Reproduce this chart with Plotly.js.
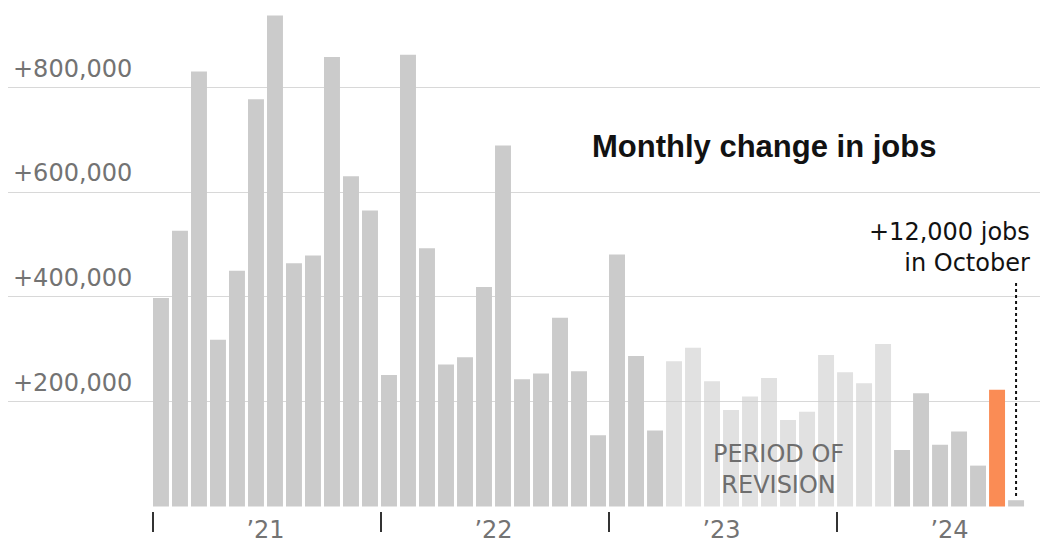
<!DOCTYPE html>
<html>
<head>
<meta charset="utf-8">
<script src="https://cdn.plot.ly/plotly-3.0.1.min.js"></script>
<style>
  html, body { margin: 0; padding: 0; background: #ffffff; }
  #chart { width: 1050px; height: 549px; }
</style>
</head>
<body>
<div id="chart"></div>
<script>
// ---- Data ----
const months = [
  '2021-01','2021-02','2021-03','2021-04','2021-05','2021-06','2021-07','2021-08','2021-09','2021-10','2021-11','2021-12',
  '2022-01','2022-02','2022-03','2022-04','2022-05','2022-06','2022-07','2022-08','2022-09','2022-10','2022-11','2022-12',
  '2023-01','2023-02','2023-03','2023-04','2023-05','2023-06','2023-07','2023-08','2023-09','2023-10','2023-11','2023-12',
  '2024-01','2024-02','2024-03','2024-04','2024-05','2024-06','2024-07','2024-08','2024-09','2024-10'
];
const jobsChange = [
  398000, 526000, 830000, 318000, 450000, 777000, 937000, 464000, 479000, 858000, 630000, 565000,
  251000, 862000, 493000, 271000, 285000, 419000, 689000, 243000, 254000, 360000, 258000, 136000,
  481000, 287000, 145000, 277000, 303000, 239000, 184000, 210000, 245000, 165000, 181000, 289000,
  256000, 235000, 310000, 108000, 216000, 118000, 143000, 78000, 223000, 12000
];
const years = ['2021', '2022', '2023', '2024'];
const yearLabels = ['\u201921', '\u201922', '\u201923', '\u201924'];
const yTickValues = [200000, 400000, 600000, 800000];
const yTickLabels = ['+200,000', '+400,000', '+600,000', '+800,000'];
const revisionStart = '2023-04';
const revisionEnd = '2024-03';
const highlightMonth = '2024-09';
const calloutMonth = '2024-10';
const titleText = 'Monthly change in jobs';
const calloutText = '+12,000 jobs<br>in October';
const revisionText = 'PERIOD OF<br>REVISION';

// ---- Styling ----
const BAR_GRAY = '#cbcbcb';
const BAR_ORANGE = '#fa8c55';
const REVISION_OPACITY = 0.58;
const FONT = '"DejaVu Sans", "Liberation Sans", Arial, sans-serif';
const barWidth = 0.84;

const xIdx = months.map((m, i) => i);
const colors = months.map(m => m === highlightMonth ? BAR_ORANGE : BAR_GRAY);
const opac = months.map(m => (m >= revisionStart && m <= revisionEnd) ? REVISION_OPACITY : 1);

const yearFirst = years.map(y => months.findIndex(m => m.startsWith(y)));
const yearCenters = yearFirst.map(i => i + 5.5);
const yearBounds = yearFirst.map(i => i - barWidth / 2);

const revIdxStart = months.indexOf(revisionStart);
const revIdxEnd = months.indexOf(revisionEnd);
const calloutIdx = months.indexOf(calloutMonth);

const trace = {
  type: 'bar',
  x: xIdx,
  y: jobsChange,
  width: barWidth,
  marker: { color: colors, opacity: opac, line: { width: 0 } },
  hovertext: months,
  hoverinfo: 'text+y'
};

const layout = {
  width: 1050,
  height: 549,
  margin: { l: 8, r: 10, t: 5, b: 38 },
  paper_bgcolor: '#ffffff',
  plot_bgcolor: '#ffffff',
  showlegend: false,
  font: { family: FONT, size: 24, color: '#737373' },
  title: {
    text: '<b>' + titleText + '</b>',
    font: { family: '"Liberation Sans", Arial, sans-serif', size: 31, color: '#121212' },
    x: 592 / 1050,
    xanchor: 'left',
    xref: 'container',
    y: 1 - 146 / 549,
    yanchor: 'middle',
    yref: 'container'
  },
  xaxis: {
    type: 'linear',
    range: [-8.05, 46.26],
    showgrid: false,
    zeroline: false,
    showline: false,
    tickmode: 'array',
    tickvals: yearCenters,
    ticktext: yearLabels,
    ticks: '',
    tickfont: { family: FONT, size: 24, color: '#737373' },
    ticklabelstandoff: 2,
    minor: {
      tickmode: 'array',
      tickvals: yearBounds,
      ticks: 'outside',
      ticklen: 20,
      tickwidth: 1.3,
      tickcolor: '#333333',
      showgrid: false
    },
    fixedrange: true
  },
  yaxis: {
    range: [-8600, 957000],
    showgrid: true,
    gridcolor: '#d8d8d8',
    gridwidth: 1,
    zeroline: false,
    showline: false,
    tickmode: 'array',
    tickvals: yTickValues,
    ticktext: yTickLabels,
    ticks: '',
    ticklabelposition: 'inside',
    ticklabelstandoff: 2,
    ticklabelshift: -19,
    tickfont: { family: FONT, size: 24, color: '#737373' },
    fixedrange: true
  },
  annotations: [
    {
      xref: 'paper', yref: 'paper',
      x: (1032 - 8) / 1032, y: (511 - 247) / 506,
      xanchor: 'right', yanchor: 'middle',
      align: 'right',
      text: calloutText,
      showarrow: false,
      font: { family: FONT, size: 24, color: '#121212' }
    },
    {
      xref: 'x', yref: 'y',
      x: (revIdxStart + revIdxEnd) / 2, y: 70000,
      xanchor: 'center', yanchor: 'middle',
      align: 'center',
      text: revisionText,
      showarrow: false,
      font: { family: FONT, size: 24, color: '#6e6e6e' }
    }
  ],
  shapes: [
    {
      type: 'line', xref: 'x', yref: 'y',
      x0: calloutIdx, x1: calloutIdx,
      y0: jobsChange[calloutIdx] + 8000, y1: 432000,
      line: { color: '#121212', width: 2, dash: 'dot' },
      layer: 'above'
    }
  ]
};

Plotly.newPlot('chart', [trace], layout, { displayModeBar: false, staticPlot: true });
</script>
</body>
</html>
